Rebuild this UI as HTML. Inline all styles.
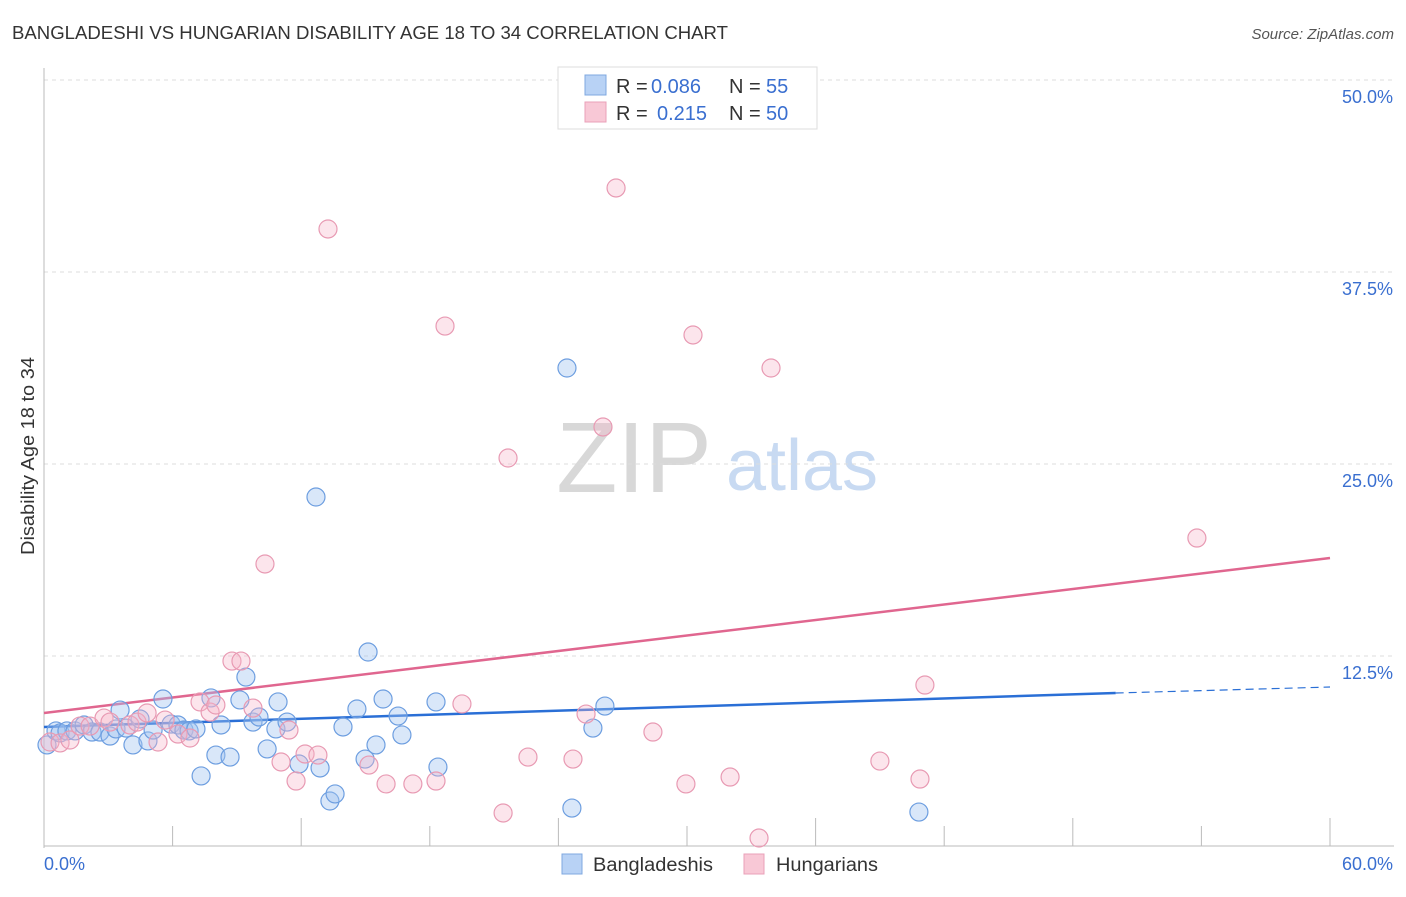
<!DOCTYPE html>
<html><head><meta charset="utf-8"><style>
body{margin:0;background:#fff;font-family:"Liberation Sans",sans-serif;}
svg text{font-family:"Liberation Sans",sans-serif;}
</style></head><body>
<svg id="c" width="1406" height="892" xmlns="http://www.w3.org/2000/svg">
<text x="12" y="39" font-size="18" fill="#333" textLength="716" lengthAdjust="spacingAndGlyphs">BANGLADESHI VS HUNGARIAN DISABILITY AGE 18 TO 34 CORRELATION CHART</text>
<text x="1394" y="39" font-size="15" fill="#555" text-anchor="end" font-style="italic">Source: ZipAtlas.com</text>
<text transform="translate(34,456) rotate(-90)" font-size="18" fill="#333" text-anchor="middle" textLength="198" lengthAdjust="spacingAndGlyphs">Disability Age 18 to 34</text>
<g>
<text x="634" y="492" font-size="100" fill="#d8d8d8" text-anchor="middle" font-family="Liberation Serif,serif">ZIP</text>
<text x="802" y="490" font-size="72" fill="#c8daf2" text-anchor="middle">atlas</text>
</g>
<g id="grid"></g><g id="axes"></g><g id="lines"></g><g id="pts"></g>
<g>
<rect x="558" y="67" width="259" height="62" fill="#fff" stroke="#ddd"/>
<rect x="585" y="75" width="21" height="20" fill="#b8d2f5" stroke="#7fa8e0"/>
<rect x="585" y="102" width="21" height="20" fill="#f8c8d6" stroke="#eaa0b8"/>
<text x="616" y="93" font-size="20" fill="#333">R =</text>
<text x="651" y="93" font-size="20" fill="#3a6fd0">0.086</text>
<text x="729" y="93" font-size="20" fill="#333">N =</text>
<text x="766" y="93" font-size="20" fill="#3a6fd0">55</text>
<text x="616" y="120" font-size="20" fill="#333">R =</text>
<text x="657" y="120" font-size="20" fill="#3a6fd0">0.215</text>
<text x="729" y="120" font-size="20" fill="#333">N =</text>
<text x="766" y="120" font-size="20" fill="#3a6fd0">50</text>
</g>
<g>
<rect x="562" y="854" width="20" height="20" fill="#b8d2f5" stroke="#7fa8e0"/>
<text x="593" y="871" font-size="19" fill="#333" textLength="120" lengthAdjust="spacingAndGlyphs">Bangladeshis</text>
<rect x="744" y="854" width="20" height="20" fill="#f8c8d6" stroke="#eaa0b8"/>
<text x="776" y="871" font-size="19" fill="#333" textLength="102" lengthAdjust="spacingAndGlyphs">Hungarians</text>
</g>
</svg>
<script>
const blueX=[0.14,0.56,0.75,1.07,1.45,1.87,2.24,2.61,3.08,3.36,3.55,3.83,4.15,4.48,4.85,5.09,5.55,5.93,6.25,6.53,6.77,7.09,7.33,7.79,8.02,8.26,8.68,9.14,9.42,9.75,10.03,10.41,10.92,10.82,11.34,11.90,12.69,12.88,13.34,13.58,13.95,14.60,14.98,15.12,15.49,15.82,16.52,16.70,18.29,18.38,24.40,24.63,25.61,26.17,40.82];
const blueY=[6.71,7.62,7.49,7.62,7.62,8.01,7.55,7.55,7.29,7.75,8.98,7.81,6.71,8.40,6.97,7.68,9.70,8.07,8.01,7.68,7.62,7.75,4.69,9.77,6.05,8.01,5.92,9.64,11.13,8.20,8.53,6.45,9.51,7.75,8.20,5.47,22.85,5.21,3.06,3.52,7.88,9.05,5.79,12.76,6.71,9.70,8.59,7.36,9.51,5.27,31.25,2.60,7.81,9.24,2.34];
const pinkX=[0.28,0.75,1.21,1.68,2.15,2.80,3.08,4.01,4.34,4.81,5.32,5.65,6.25,6.81,7.28,7.75,8.02,8.77,9.19,9.75,10.31,11.06,11.43,11.76,12.18,12.78,13.25,15.16,15.96,17.21,18.29,18.71,19.50,21.42,21.65,22.58,24.68,25.29,26.08,26.69,28.41,29.95,30.28,32.01,33.36,33.92,39.00,40.87,41.10,53.79];
const pinkY=[6.90,6.84,7.03,7.94,7.94,8.46,8.20,8.01,8.20,8.79,6.90,8.33,7.42,7.16,9.51,8.85,9.31,12.17,12.17,9.11,18.49,5.60,7.68,4.36,6.12,6.05,40.30,5.40,4.17,4.17,4.36,33.98,9.38,2.28,25.39,5.92,5.79,8.72,27.41,42.97,7.55,4.17,33.40,4.62,0.65,31.25,5.66,4.49,10.61,20.18];
const yTicks=[12.5,25,37.5,50];
const yTickLabels=["12.5%","25.0%","37.5%","50.0%"];
const blueTrend=[0,7.88,50,10.09,60,10.48];
const pinkTrend=[0,8.79,60,18.88];
const NS="http://www.w3.org/2000/svg";
const sx=v=>44+v/60*1286, sy=v=>848-v/12.5*192;
function mk(tag,attrs,parent){const e=document.createElementNS(NS,tag);for(const k in attrs)e.setAttribute(k,attrs[k]);document.getElementById(parent).appendChild(e);return e;}
yTicks.forEach((t,i)=>{
 const l=mk('line',{x1:44,x2:1394,y1:sy(t),y2:sy(t),stroke:'#ddd','stroke-dasharray':'4,4'},'grid');
 
 
 const tx=mk('text',{x:1393,y:sy(t)+23,'font-size':18,fill:'#3a6fd0','text-anchor':'end'},'grid');
 tx.textContent=yTickLabels[i];
 
 
});
let a=mk('line',{x1:44,x2:44,y1:68,y2:848,stroke:'#bbb'},'axes');


a=mk('line',{x1:44,x2:1394,y1:846,y2:846,stroke:'#bbb'},'axes');


for(let i=1;i<=10;i++){
 const t=mk('line',{x1:sx(i*6),x2:sx(i*6),y1:i%2?826:818,y2:846,stroke:'#bbb'},'axes');
 
 
}
let xl=mk('text',{x:44,y:870,'font-size':18,fill:'#3a6fd0'},'axes');xl.textContent='0.0%';


xl=mk('text',{x:1393,y:870,'font-size':18,fill:'#3a6fd0','text-anchor':'end'},'axes');xl.textContent='60.0%';


function dot(x,y,f,s,name){const c=mk('circle',{cx:sx(x),cy:sy(y),r:9,fill:f,stroke:s,'stroke-width':1.2},'pts');
 
 }
blueX.forEach((x,i)=>dot(x,blueY[i],'rgba(160,195,240,0.4)','#6d9ee0','bangladeshi-point'));
pinkX.forEach((x,i)=>dot(x,pinkY[i],'rgba(245,180,200,0.35)','#e89ab3','hungarian-point'));
let ln=mk('line',{x1:sx(blueTrend[0]),y1:sy(blueTrend[1]),x2:sx(blueTrend[2]),y2:sy(blueTrend[3]),stroke:'#2a6fd6','stroke-width':2.5},'lines');


ln=mk('line',{x1:sx(blueTrend[2]),y1:sy(blueTrend[3]),x2:sx(blueTrend[4]),y2:sy(blueTrend[5]),stroke:'#2a6fd6','stroke-width':1.2,'stroke-dasharray':'8,5'},'lines');


ln=mk('line',{x1:sx(pinkTrend[0]),y1:sy(pinkTrend[1]),x2:sx(pinkTrend[2]),y2:sy(pinkTrend[3]),stroke:'#e0668f','stroke-width':2.5},'lines');


</script>
</body></html>
